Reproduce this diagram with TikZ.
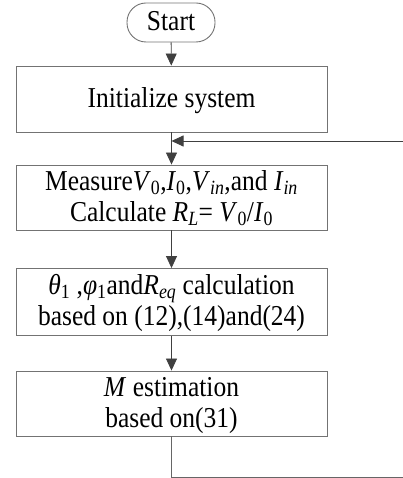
\documentclass[tikz,border=0pt]{standalone}
\usepackage{fontspec}
\usepackage{graphicx}
\setmainfont{Liberation Serif}
\usetikzlibrary{arrows.meta}
\newcommand{\sbs}[1]{\textsubscript{#1}}
% labels are set slightly taller than wide and sit a little low in their boxes
\newsavebox\lblbox
\newcommand{\tall}[1]{\sbox\lblbox{\scalebox{1}[1.13]{\begin{tabular}{@{}c@{}}#1\end{tabular}}}%
  \raisebox{-2pt}[\ht\lblbox][\dp\lblbox]{\usebox\lblbox}}
\tikzset{
  boxline/.style={draw=black!55, line width=0.9pt},
  procbox/.style={boxline, rectangle, minimum width=311pt, inner sep=0pt, align=center,
    font=\fontsize{25.5}{27.5}\selectfont},
  termbox/.style={boxline, rectangle, rounded corners=19pt, minimum width=88pt,
    minimum height=39pt, inner sep=0pt, font=\fontsize{25.5}{27.5}\selectfont},
  flow/.style={draw=black!75, line width=0.8pt, -{Triangle[length=12pt,width=11pt]}},
  flowline/.style={draw=black!60, line width=0.8pt}
}
\begin{document}
\begin{tikzpicture}[x=1pt,y=-1pt]
\useasboundingbox (0,0) rectangle (402,478);

\node[termbox] (start) at (171,22.5) {\tall{Start}};
\node[procbox, minimum height=66pt] (init) at (171.5,99) {\tall{Initialize system}};
\node[procbox, minimum height=65pt] (meas) at (171.5,197.5)
  {\tall{Measure\textit{V}\sbs{0},\textit{I}\sbs{0},\textit{V}\sbs{\textit{in}},and \textit{I}\sbs{\textit{in}}\\
   Calculate \textit{R}\sbs{\textit{L}}= \textit{V}\sbs{0}/\textit{I}\sbs{0}}};
\node[procbox, minimum height=67pt] (calc) at (171.5,302)
  {\tall{\textit{θ}\sbs{1} ,\textit{φ}\sbs{1}and\textit{R}\sbs{\textit{eq}} calculation\\
   based on (12),(14)and(24)}};
\node[procbox, minimum height=65pt] (est) at (171.5,403.5)
  {\tall{\textit{M} estimation\\ based on(31)}};

% feedback path corners
\coordinate (fb1) at (403,477);
\coordinate (fb2) at (403,141);
\coordinate (join) at (init.south |- fb2);

\draw[flow] (start) -- (init);
\draw[flow] (init) -- (meas);
\draw[flow] (meas) -- (calc);
\draw[flow] (calc) -- (est);
\draw[flowline] (est.south) |- (fb1) -- (fb2);
\draw[flow] (fb2) -- (join);
\end{tikzpicture}
\end{document}
